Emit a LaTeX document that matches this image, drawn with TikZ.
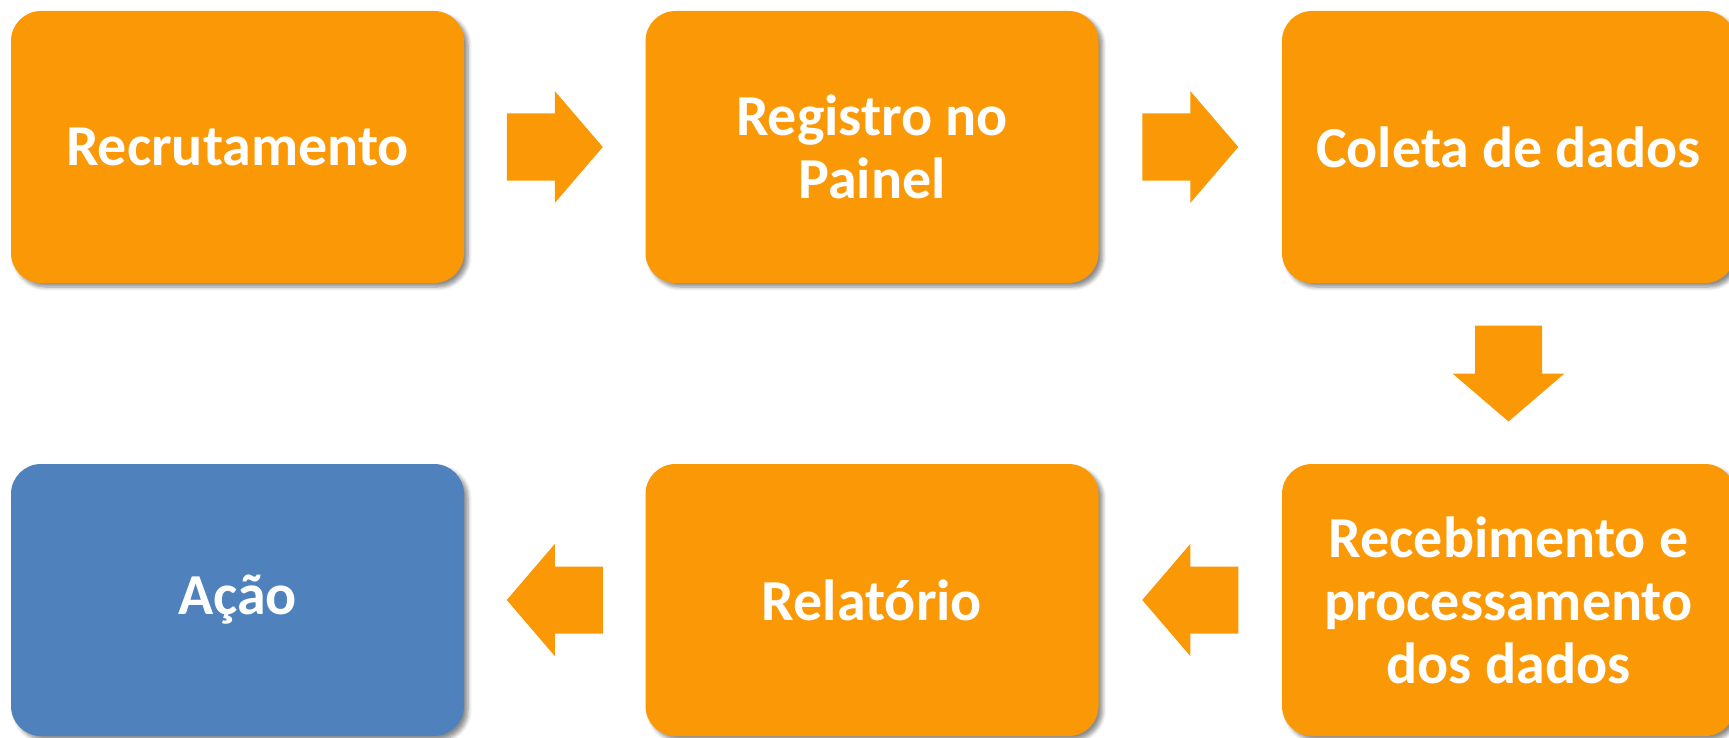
\documentclass[tikz,border=0pt]{standalone}
\usepackage{fontspec}
\setmainfont{Carlito}
\usetikzlibrary{calc,shadows.blur}

\definecolor{laranja}{RGB}{250,152,5}
\definecolor{azul}{RGB}{79,129,189}

% seta em bloco: #1 = centro, #2 = angulo
\newcommand{\seta}[2]{%
  \fill[laranja, shift={(#1)}, rotate=#2] (-48,-33.5) -- (0,-33.5) -- (0,-56) -- (48,0)
    -- (0,56) -- (0,33.5) -- (-48,33.5) -- cycle;}

\begin{document}
\begin{tikzpicture}[x=0.5pt, y=-0.5pt]
		\useasboundingbox (0,0) rectangle (1729,738);
		\tikzstyle{every node} = [rectangle, rounded corners=15pt, fill=laranja, text=white,
			minimum width=226.5pt, minimum height=136pt, align=center,
			font=\bfseries\fontsize{29}{31.5}\selectfont,
			blur shadow={shadow xshift=2pt, shadow yshift=-2pt, shadow blur steps=6, shadow opacity=45}]
		\node (rec) at (237.5, 147) {Recrutamento};
		\node (reg) at (872, 147) {Registro no\\Painel};
		\node (col) at (1508.5, 147) {Coleta de dados};
		\node (proc) at (1508.5, 600) {Recebimento e\\processamento\\dos dados};
		\node (rel) at (872, 600) {Relatório};
		\node[fill=azul] (acao) at (237.5, 600) {Ação};

		\seta{$(rec.east)!0.5!(reg.west)$}{0}
		\seta{$(reg.east)!0.5!(col.west)$}{0}
		\seta{$(col.south)!0.5!(proc.north)$}{-90}
		\seta{$(proc.west)!0.5!(rel.east)$}{180}
		\seta{$(rel.west)!0.5!(acao.east)$}{180}
		\end{tikzpicture}
\end{document}
